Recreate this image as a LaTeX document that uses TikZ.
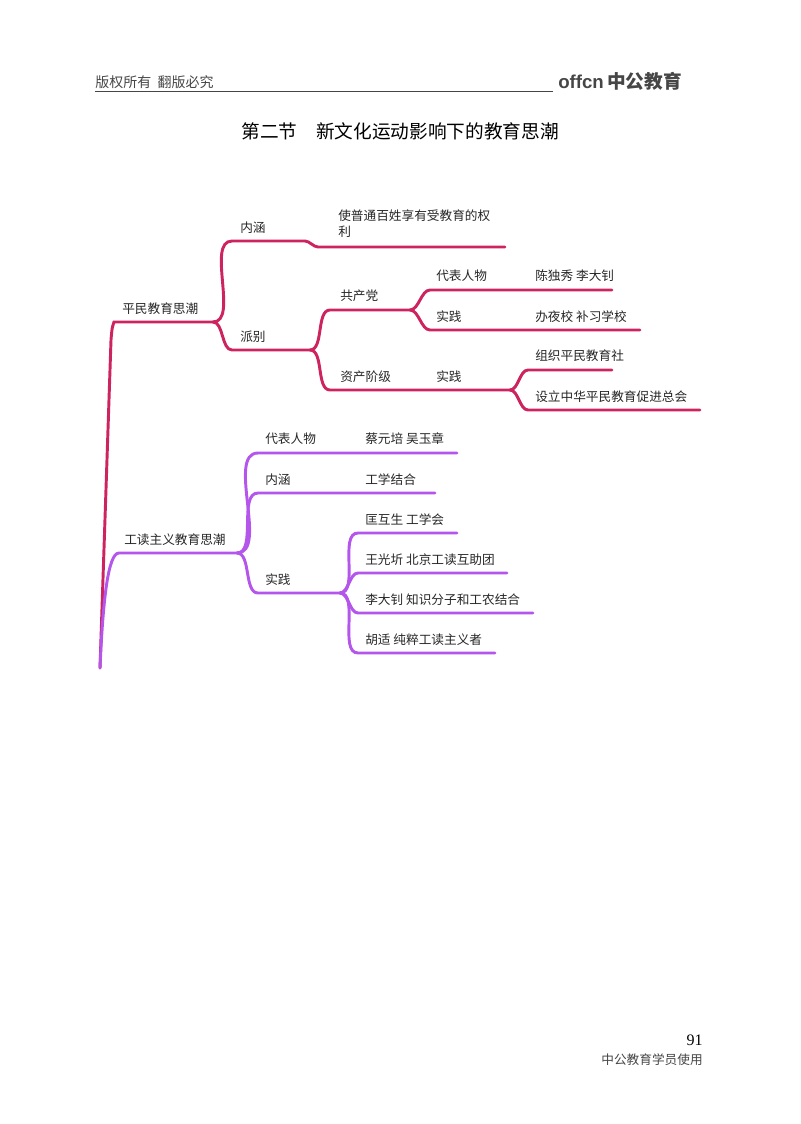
\documentclass[tikz,border=0pt]{standalone}
\usepackage{fontspec}
\setmainfont{Noto Sans CJK SC}
\newfontfamily\serifnum{Liberation Serif}
\definecolor{pinkc}{RGB}{205,35,95}
\definecolor{purpc}{RGB}{180,85,235}
\definecolor{grayc}{RGB}{70,70,70}
\begin{document}
\begin{tikzpicture}[x=0.75pt,y=-0.75pt,
  lbl/.style={font=\fontsize{9.5}{12}\selectfont,text=black!85,anchor=base west,inner sep=0pt},
  pk/.style={draw=pinkc,line width=2.2pt,line cap=round},
  pp/.style={draw=purpc,line width=2.2pt,line cap=round},
  br/.style={out=0,in=180,looseness=0.8}]
\useasboundingbox (0,0) rectangle (800,1124);
% header
\node[anchor=base west,inner sep=0pt,text=grayc,font=\fontsize{10.5}{12}\selectfont] (hl) at (95,88) {版权所有\ \ 翻版必究};
\draw[grayc,line width=0.6pt] (95,91) -- (553,91);
\node[anchor=base west,inner sep=0pt,text=grayc,font=\fontsize{14}{16}\bfseries\selectfont] (logo) at (558,89) {\fontspec{Liberation Sans}offcn\,\normalfont\bfseries 中公教育};
\node[font=\fontsize{14}{16}\selectfont] (title) at (400,131) {第二节\quad 新文化运动影响下的教育思潮};
% footer
\node[anchor=base east,inner sep=0pt,font=\serifnum\fontsize{12}{14}\selectfont] (pg) at (703,1045) {91};
\node[anchor=base east,inner sep=0pt,font=\fontsize{9.5}{12}\selectfont,text=grayc] (ft) at (703,1064) {中公教育学员使用};

% ===== pink tree =====
\coordinate (bot) at (100,668);
\coordinate (r1a) at (114,322);
\coordinate (r1) at (213,322);
\draw[pk] (bot) -- (111,340) .. controls (112,328) .. (r1a) -- (r1);
\node[lbl] (t1) at (122,313) {平民教育思潮};
% 内涵
\coordinate (a1) at (232,241); \coordinate (a1b) at (305,241); \coordinate (a1c) at (318,247); \coordinate (a1e) at (505,247);
\draw[pk] (r1) to[br] (a1) -- (a1b) to[br] (a1c) -- (a1e);
\node[lbl] (t2) at (240,232) {内涵};
\node[lbl,align=left,anchor=north west] (t3) at (338,210) {使普通百姓享有受教育的权\\利};
% 派别
\coordinate (b1) at (232,350); \coordinate (b1e) at (310,350);
\draw[pk] (r1) to[br] (b1) -- (b1e);
\node[lbl] (t4) at (240,341) {派别};
% 共产党
\coordinate (c1) at (330,310); \coordinate (c1e) at (410,310);
\draw[pk] (b1e) to[br] (c1) -- (c1e);
\node[lbl] (t5) at (340,300) {共产党};
\coordinate (d1) at (430,290); \coordinate (d1e) at (612,290);
\draw[pk] (c1e) to[br] (d1) -- (d1e);
\node[lbl] (t6) at (436,280) {代表人物};
\node[lbl] (t7) at (535,280) {陈独秀 李大钊};
\coordinate (d2) at (430,330); \coordinate (d2e) at (640,330);
\draw[pk] (c1e) to[br] (d2) -- (d2e);
\node[lbl] (t8) at (436,321) {实践};
\node[lbl] (t9) at (535,321) {办夜校 补习学校};
% 资产阶级
\coordinate (c2) at (330,390); \coordinate (c2e) at (510,390);
\draw[pk] (b1e) to[br] (c2) -- (c2e);
\node[lbl] (t10) at (340,381) {资产阶级};
\node[lbl] (t11) at (436,381) {实践};
\coordinate (e1) at (528,370); \coordinate (e1e) at (612,370);
\draw[pk] (c2e) to[br] (e1) -- (e1e);
\node[lbl] (t12) at (535,360) {组织平民教育社};
\coordinate (e2) at (528,410); \coordinate (e2e) at (700,410);
\draw[pk] (c2e) to[br] (e2) -- (e2e);
\node[lbl] (t13) at (535,401) {设立中华平民教育促进总会};

% ===== purple tree =====
\coordinate (p0) at (119,553); \coordinate (p1) at (237,553);
\draw[pp] (bot) .. controls (103,600) and (108,553) .. (p0) -- (p1);
\node[lbl] (u1) at (124,544) {工读主义教育思潮};
\coordinate (q1) at (258,453); \coordinate (q1e) at (457,453);
\draw[pp] (p1) to[br] (q1) -- (q1e);
\node[lbl] (u2) at (265,443) {代表人物};
\node[lbl] (u3) at (365,443) {蔡元培 吴玉章};
\coordinate (q2) at (258,493); \coordinate (q2e) at (435,493);
\draw[pp] (p1) to[br] (q2) -- (q2e);
\node[lbl] (u4) at (265,484) {内涵};
\node[lbl] (u5) at (365,484) {工学结合};
\coordinate (q3) at (258,593); \coordinate (q3e) at (340,593);
\draw[pp] (p1) to[br] (q3) -- (q3e);
\node[lbl] (u6) at (265,584) {实践};
\coordinate (s1) at (358,533); \coordinate (s1e) at (457,533);
\draw[pp] (q3e) to[br] (s1) -- (s1e);
\node[lbl] (u7) at (365,524) {匡互生 工学会};
\coordinate (s2) at (358,573); \coordinate (s2e) at (507,573);
\draw[pp] (q3e) to[br] (s2) -- (s2e);
\node[lbl] (u8) at (365,564) {王光圻 北京工读互助团};
\coordinate (s3) at (358,613); \coordinate (s3e) at (533,613);
\draw[pp] (q3e) to[br] (s3) -- (s3e);
\node[lbl] (u9) at (365,604) {李大钊 知识分子和工农结合};
\coordinate (s4) at (358,653); \coordinate (s4e) at (495,653);
\draw[pp] (q3e) to[br] (s4) -- (s4e);
\node[lbl] (u10) at (365,644) {胡适 纯粹工读主义者};
\end{tikzpicture}
\end{document}
